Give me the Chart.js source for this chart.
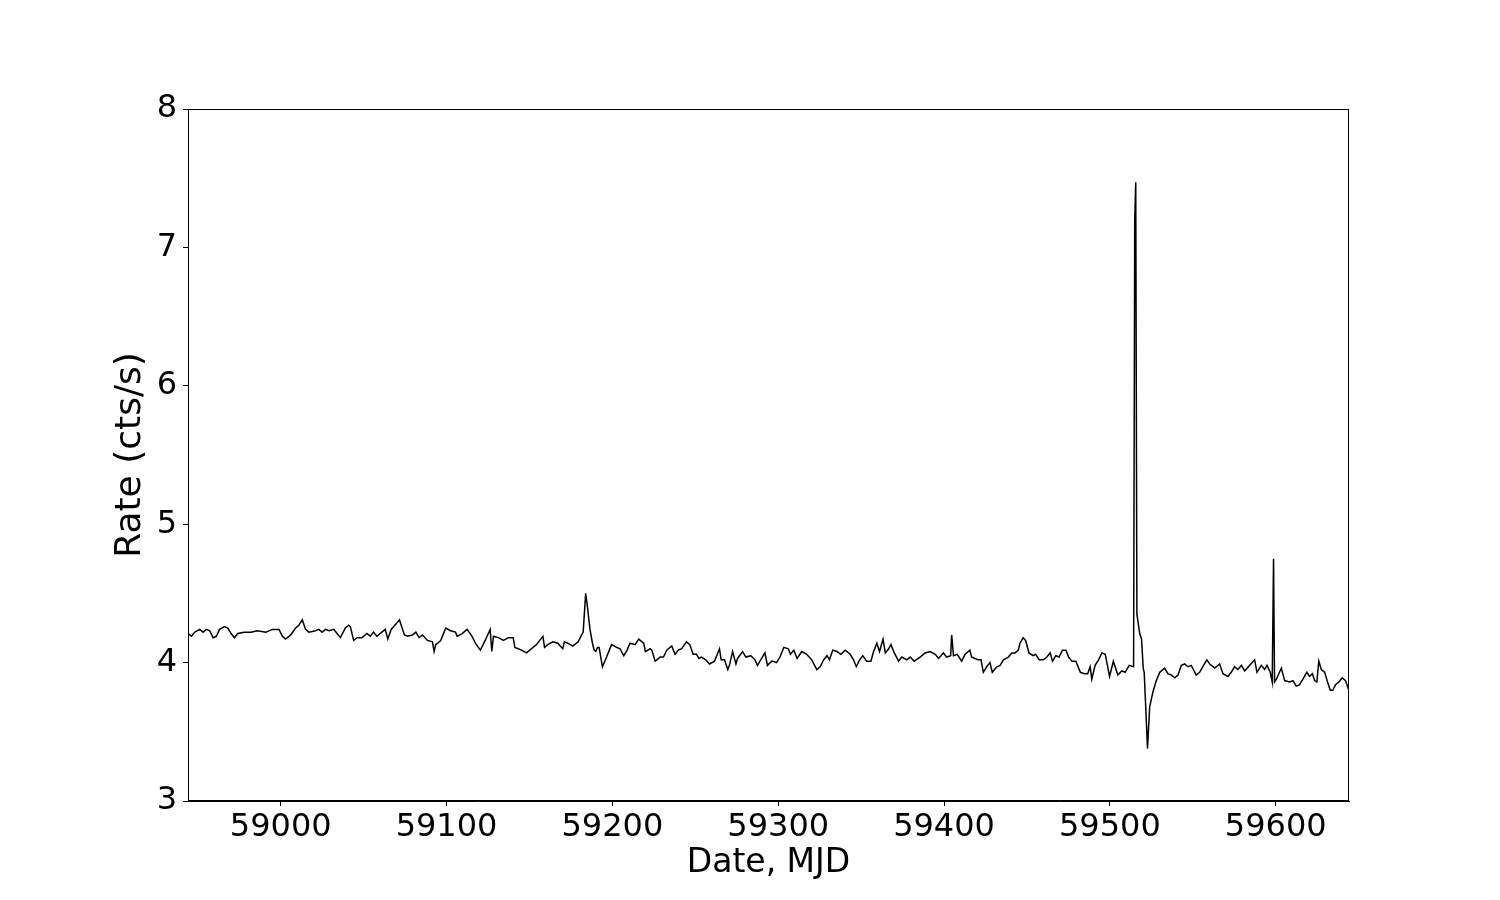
<!DOCTYPE html>
<html>
<head>
<meta charset="utf-8">
<script src="https://cdn.jsdelivr.net/npm/chart.js@4.4.0/dist/chart.umd.min.js"></script>
<style>
html,body{margin:0;padding:0;background:#fff;}
#wrap{width:1500px;height:900px;}
</style>
</head>
<body>
<div id="wrap"><canvas id="c" width="1500" height="900"></canvas></div>
<script>
// ---- data ----
const dates = [
58944.2,58946.2,58948.2,58951.2,58953.2,58955.2,58957.2,58959.2,58961.2,58963.1,58966.1,58968.1,58970.1,58972.1,58974.1,58978,58982,58986,58991,58995,58999,59001,59003,59006,59009,59011,59013,59015,59017,59021,59023,59025,59027,59029,59032,59034,59036,59039,59041,59042,59044,59046,59049,59052,59054,59056,59058,59061,59063,
59064.6,59066.6,59069.6,59071.6,59074.6,59076.6,59079.6,59081.5,59083.5,59085.5,59088.5,59091.5,59092.5,59093.5,59096.5,59099.5,59102.4,59105.4,59106.4,59109.4,59112.4,59115.4,59117.4,59120.4,59123.3,59126.3,59127.3,59128.3,59131.3,59134.3,59137.3,59140.2,59141.2,59143.2,59145.2,59148.2,59151.2,59154.2,59158.1,59159.1,59161.1,59164.1,59167.1,59170.1,59171.1,59173.1,59176,
59179.4,59181,59182.4,59183.9,59185,59186.5,59188,59189,59190,59191,59192,59194,59196.5,59199.5,59202.6,59204.6,59206.9,59208.9,59210.6,59213.7,59215.9,59218.9,59219.9,59222.8,59223.8,59225.8,59228.8,59230.8,59232.8,59235.8,59237.8,59239.8,59241.8,59244.7,59246.7,59248.7,59250.7,59252.2,59253.7,59256.3,59258.6,59261.6,59264.6,59265.6,59267.6,59269.6,59270.6,59272.5,59274.5,59275.5,59278.5,59280.5,59283.5,59286,59287.5,59290,59292,59293.5,59296,
59297,59299,59301,59303.4,59306.1,59307.4,59309.4,59311.4,59314.2,59317.2,59320.2,59323.3,59325.3,59327.4,59329.4,59330.9,59332.9,59335.4,59337.8,59340.4,59343.4,59345.4,59347.1,59349.1,59351,59353.3,59355.9,59357.5,59359.5,59361.1,59363.2,59364.6,59366.6,59368,59370,59372.6,59374.6,59377.6,59379.6,59382,59385.6,59388.6,59391.6,59394.7,59396.7,59399.6,59401.6,59404,59404.6,59405.7,59408,59410.6,59412.7,59415.6,
59416.6,59418.6,59420.6,59422.3,59423.7,59425.7,59427.7,59429.1,59431.8,59433.8,59435.8,59438.8,59440.8,59442.8,59444.8,59445.8,59447.7,59449.2,59451.2,59453.7,59455.3,59457.3,59459.9,59462,59464,59465.4,59467.4,59469.4,59471.4,59473.5,59475.1,59477.1,59479.5,59482.2,59484.6,59486.6,59488.1,59489.1,59491.1,59493.2,59495.2,59497.2,59498.2,59499.8,59502.1,59504.8,59507.2,59509.2,59511.7,59514.3,
59515.0,59515.6,59516.3,59518.0,59519.1,59520.1,59520.7,59522.7,59524.0,59526.0,59528.0,59530.1,
59533.0,59535.0,59537.1,59539.1,59541.1,59543.1,59545.1,59547.1,59549.1,59552.1,59554.1,59556.5,59558.5,59560.2,59563.2,59566.2,59568.2,59571.2,59573.2,59575.2,59577.2,59579.3,59581.3,59584.3,59587.3,59588.7,59591.3,59593.3,59594.7,59596.7,59597.9,59598.7,59599.3,59600.4,59603.4,59605.4,59608.4,59610.4,59612.4,59614.4,59616.4,59618.8,59620.4,59622.1,59623.5,59624.8,59626.0,59627.5,59629.5,59631.5,59632.9,59634.4,59636.1,59638.1,59640.1,59642.1,59644.1
];
const rates = [
4.21,4.19,4.22,4.24,4.22,4.24,4.23,4.18,4.19,4.24,4.26,4.25,4.21,4.18,4.21,4.22,4.22,4.23,4.22,4.24,4.24,4.19,4.17,4.20,4.25,4.27,4.31,4.24,4.22,4.23,4.24,4.22,4.24,4.23,4.24,4.21,4.18,4.25,4.27,4.26,4.16,4.18,4.18,4.21,4.19,4.22,4.19,4.22,4.24,
4.17,4.24,4.28,4.31,4.20,4.19,4.20,4.22,4.18,4.20,4.16,4.15,4.08,4.13,4.16,4.25,4.23,4.22,4.19,4.21,4.24,4.19,4.14,4.09,4.16,4.24,4.08,4.19,4.18,4.16,4.18,4.18,4.11,4.10,4.09,4.07,4.10,4.13,4.19,4.11,4.13,4.15,4.14,4.10,4.15,4.14,4.12,
4.15,4.19,4.22,4.50,4.40,4.24,4.14,4.09,4.08,4.11,4.11,3.97,4.04,4.13,4.11,4.10,4.05,4.09,4.14,4.13,4.17,4.14,4.08,4.10,4.09,4.01,4.04,4.04,4.09,4.12,4.06,4.09,4.10,4.15,4.13,4.06,4.06,4.03,4.04,4.02,3.99,4.01,4.10,4.02,4.02,3.95,3.98,4.08,3.99,4.03,4.08,4.04,4.05,4.02,3.98,4.03,4.07,3.98,4.01,
4.01,4.00,4.04,4.11,4.10,4.06,4.09,4.03,4.08,4.06,4.02,3.95,3.97,4.02,4.05,4.02,4.09,4.08,4.06,4.09,4.06,4.02,3.97,4.02,4.05,4.01,4.01,4.08,4.14,4.08,4.17,4.07,4.10,4.13,4.07,4.01,4.04,4.02,4.04,4.01,4.04,4.07,4.08,4.06,4.03,4.07,4.04,4.05,4.20,4.05,4.06,4.01,4.06,4.09,
4.04,4.03,4.02,4.02,3.93,3.97,4.00,3.93,3.97,3.98,4.02,4.04,4.07,4.07,4.09,4.14,4.18,4.16,4.07,4.05,4.06,4.02,4.02,4.04,4.07,4.01,4.05,4.04,4.09,4.09,4.04,4.01,4.01,3.93,3.92,3.92,3.97,3.88,3.98,4.02,4.07,4.06,4.00,3.90,4.01,3.91,3.94,3.93,3.98,3.97,
7.20,7.47,4.35,4.21,4.17,3.96,3.93,3.38,3.68,3.79,3.87,3.93,
3.96,3.92,3.91,3.89,3.91,3.98,3.99,3.97,3.98,3.91,3.93,3.98,4.02,3.99,3.96,3.99,3.92,3.90,3.93,3.97,3.95,3.98,3.94,3.98,4.02,3.93,3.98,3.95,3.98,3.93,3.86,4.75,3.86,3.88,3.96,3.87,3.86,3.87,3.83,3.84,3.88,3.93,3.90,3.92,3.87,3.86,4.01,3.95,3.93,3.85,3.80,3.80,3.84,3.86,3.89,3.87,3.80
];
const xTicks = [59000,59100,59200,59300,59400,59500,59600];
const yTicks = [3,4,5,6,7,8];
const xMin = 58944.1, xMax = 59644.2;
const yMin = 3, yMax = 8;
const xTitle = 'Date, MJD';
const yTitle = 'Rate (cts/s)';

const points = dates.map((d,i)=>({x:d, y:rates[i]}));

const frame = {
  id:'frame',
  afterDraw(chart){
    const {ctx, chartArea:a} = chart;
    ctx.save();
    ctx.strokeStyle = '#000';
    ctx.lineWidth = 1;
    ctx.strokeRect(Math.round(a.left)+0.5, Math.round(a.top)+0.5, Math.round(a.right-a.left)-1, Math.round(a.bottom-a.top)-1);
    ctx.restore();
  }
};

new Chart(document.getElementById('c'), {
  type:'line',
  data:{datasets:[{data:points, borderColor:'#000', borderWidth:1.5, pointRadius:0, tension:0, fill:false}]},
  options:{
    responsive:false, animation:false, devicePixelRatio:1,
    layout:{padding:{left:109, right:151, top:109, bottom:0}},
    plugins:{legend:{display:false}, tooltip:{enabled:false}},
    scales:{
      x:{
        type:'linear', min:xMin, max:xMax,
        afterBuildTicks(s){ s.ticks = xTicks.map(v=>({value:v})); },
        afterFit(s){ s.height = 99; },
        grid:{drawOnChartArea:false, drawTicks:true, tickLength:5, color:'#000'},
        border:{display:true, color:'#000'},
        ticks:{color:'#000', font:{family:'DejaVu Sans', size:32}, padding:2, maxRotation:0, autoSkip:false, callback:v=>String(v)},
        title:{display:true, text:xTitle, color:'#000', font:{family:'DejaVu Sans', size:33}, padding:{top:0,bottom:17}}
      },
      y:{
        type:'linear', min:yMin, max:yMax,
        afterBuildTicks(s){ s.ticks = yTicks.map(v=>({value:v})); },
        afterFit(s){ s.width = 79; },
        grid:{drawOnChartArea:false, drawTicks:true, tickLength:5, color:'#000'},
        border:{display:true, color:'#000'},
        ticks:{color:'#000', font:{family:'DejaVu Sans', size:32}, padding:6, callback:v=>String(v)},
        title:{display:true, text:yTitle, color:'#000', font:{family:'DejaVu Sans', size:36}, padding:{top:0,bottom:0}}
      }
    }
  },
  plugins:[frame]
});
</script>
</body>
</html>
